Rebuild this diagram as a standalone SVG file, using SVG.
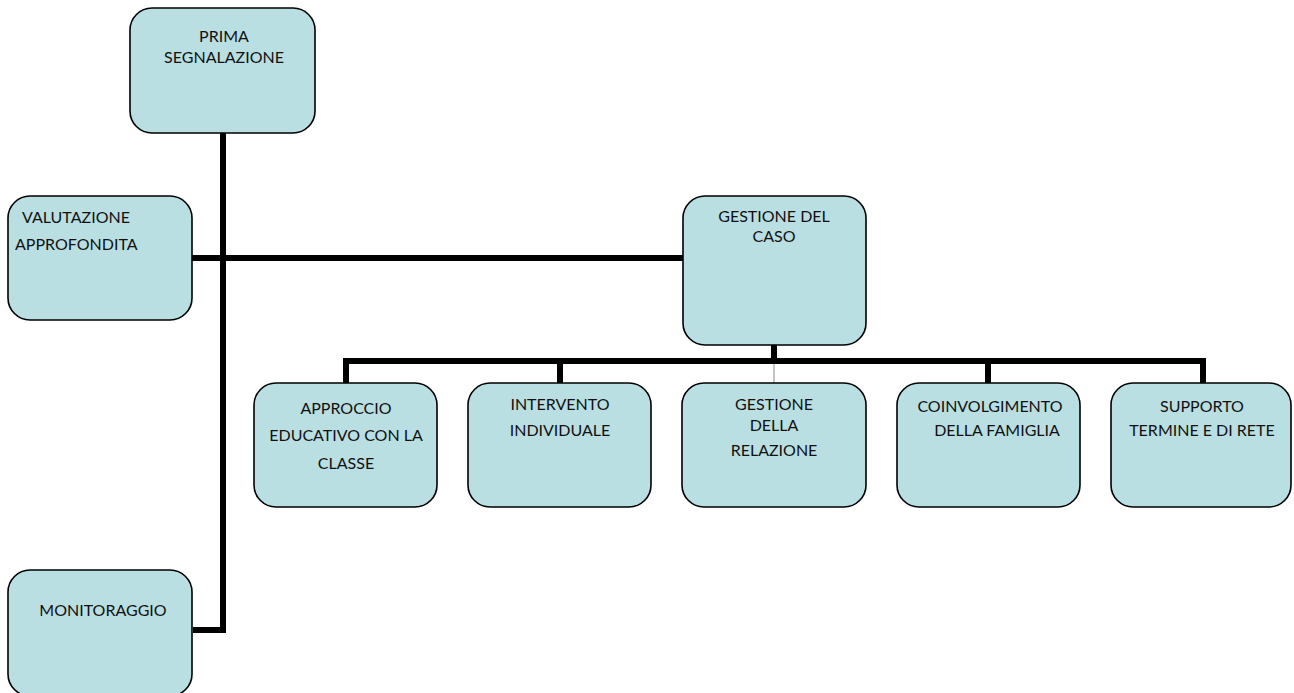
<svg xmlns="http://www.w3.org/2000/svg" width="1294" height="693" viewBox="0 0 1294 693">
<style>
.box{fill:#b9dfe2;stroke:#000;stroke-width:1.6}
.lbl{font-family:Lato,"Open Sans","Liberation Sans",sans-serif;font-size:16px;fill:#111}
.c{text-anchor:middle}
.wire{fill:none;stroke:#000;stroke-width:6;stroke-linejoin:miter}
.thin{fill:none;stroke:#888;stroke-width:1}
</style>
<rect width="1294" height="693" fill="#fff"/>
<g id="connectors">
<polyline class="wire" points="223,133 223,630 193,630"/>
<line class="wire" x1="192" y1="258" x2="683" y2="258"/>
<line class="wire" x1="774" y1="345" x2="774" y2="361"/>
<polyline class="wire" points="346,383 346,361 1203,361 1203,383"/>
<line class="wire" x1="560" y1="361" x2="560" y2="383"/>
<line class="wire" x1="988" y1="361" x2="988" y2="383"/>
<line class="thin" x1="774" y1="364" x2="774" y2="383"/>
</g>
<g id="prima">
<rect class="box" x="130" y="8" width="185" height="125" rx="22"/>
<text class="lbl c" x="224" y="42">PRIMA</text>
<text class="lbl c" x="224" y="63">SEGNALAZIONE</text>
</g>
<g id="valutazione">
<rect class="box" x="8" y="196" width="184" height="124" rx="22"/>
<text class="lbl" x="22" y="223">VALUTAZIONE</text>
<text class="lbl" x="15" y="250">APPROFONDITA</text>
</g>
<g id="gestione-caso">
<rect class="box" x="683" y="196" width="183" height="149" rx="22"/>
<text class="lbl c" x="774" y="222">GESTIONE DEL</text>
<text class="lbl c" x="774" y="242">CASO</text>
</g>
<g id="monitoraggio">
<rect class="box" x="8" y="570" width="184" height="126" rx="22"/>
<text class="lbl c" x="103" y="616">MONITORAGGIO</text>
</g>
<g id="approccio">
<rect class="box" x="254" y="383" width="183" height="124" rx="22"/>
<text class="lbl c" x="346" y="414">APPROCCIO</text>
<text class="lbl c" x="346" y="441">EDUCATIVO CON LA</text>
<text class="lbl c" x="346" y="469">CLASSE</text>
</g>
<g id="intervento">
<rect class="box" x="468" y="383" width="183" height="124" rx="22"/>
<text class="lbl c" x="560" y="410">INTERVENTO</text>
<text class="lbl c" x="560" y="436">INDIVIDUALE</text>
</g>
<g id="gestione-relazione">
<rect class="box" x="682" y="383" width="184" height="124" rx="22"/>
<text class="lbl c" x="774" y="410">GESTIONE</text>
<text class="lbl c" x="774" y="431">DELLA</text>
<text class="lbl c" x="774" y="456">RELAZIONE</text>
</g>
<g id="coinvolgimento">
<rect class="box" x="897" y="383" width="183" height="124" rx="22"/>
<text class="lbl c" x="990" y="412">COINVOLGIMENTO</text>
<text class="lbl c" x="997" y="436">DELLA FAMIGLIA</text>
</g>
<g id="supporto">
<rect class="box" x="1111" y="383" width="180" height="124" rx="22"/>
<text class="lbl c" x="1202" y="412">SUPPORTO</text>
<text class="lbl c" x="1202" y="436">TERMINE E DI RETE</text>
</g>
</svg>
